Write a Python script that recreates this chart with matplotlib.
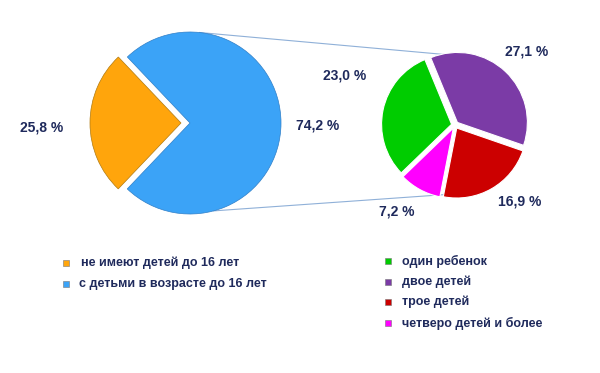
import numpy as np
import matplotlib.pyplot as plt

# Данные
main_labels = ['не имеют детей до 16 лет', 'с детьми в возрасте до 16 лет']
main_values = [25.8, 74.2]
main_colors = ['#FFA50C', '#3BA3F7']

sub_labels = ['один ребенок', 'двое детей', 'трое детей', 'четверо детей и более']
sub_values = [23.0, 27.1, 16.9, 7.2]
sub_colors = ['#00CC00', '#7B3BA6', '#CC0000', '#FF00FF']

txt_color = '#1F2A5C'
H = 373

plt.rcParams['font.family'] = ['Liberation Sans', 'DejaVu Sans']

fig = plt.figure(figsize=(6, 3.73), dpi=100)
ax = fig.add_axes([0, 0, 1, 1])


def py(y):
    # пиксельная координата сверху -> координата осей
    return H - y


# Большой круг (explode задаётся в единицах данных)
c1, r1 = (190, py(123)), 91
ax.pie(main_values, colors=main_colors, startangle=226.4, counterclock=False,
       center=c1, radius=r1, explode=[9, 0],
       wedgeprops=dict(edgecolor='#b07a10', linewidth=0.5), frame=True)
ax.patches[1].set_edgecolor('#2f7fc8')

# Малый круг
c2, r2 = (455, py(125)), 70
ax.pie(sub_values, colors=sub_colors, startangle=224, counterclock=False,
       center=c2, radius=r2, explode=[3.5] * 4,
       wedgeprops=dict(edgecolor='white', linewidth=0.8), frame=True)

ax.set_xlim(0, 600)
ax.set_ylim(0, H)
ax.set_aspect('equal')
ax.axis('off')

# Соединительные линии
for a1, a2 in [(84, 93), (-75, -97)]:
    p1 = (c1[0] + r1 * np.cos(np.radians(a1)), c1[1] + r1 * np.sin(np.radians(a1)))
    p2 = (c2[0] + r2 * np.cos(np.radians(a2)), c2[1] + r2 * np.sin(np.radians(a2)))
    ax.plot([p1[0], p2[0]], [p1[1], p2[1]], color='#8fb0d8', lw=0.8, zorder=0)

# Подписи долей
val_pos = [(42, 127), (318, 126), (345, 75), (527, 52), (520, 202), (397, 212)]
all_vals = main_values + sub_values
for (x, y), v in zip(val_pos, all_vals):
    ax.text(x, py(y), f'{v:.1f} %'.replace('.', ','), ha='center', va='center',
            fontsize=10, fontweight='bold', color=txt_color)

# Легенды
for i, (lab, col) in enumerate(zip(main_labels, main_colors)):
    y = py(263 + 20.5 * i)
    ax.scatter([66], [y], marker='s', s=22, color=col, edgecolors='#777777', linewidths=0.4)
    ax.text(81 - 2 * i, y, lab, ha='left', va='center',
            fontsize=9, fontweight='bold', color=txt_color)

for i, (lab, col) in enumerate(zip(sub_labels, sub_colors)):
    y = py([261, 282, 302, 323][i])
    ax.scatter([388], [y], marker='s', s=22, color=col, edgecolors='#777777', linewidths=0.4)
    ax.text(402, y, lab, ha='left', va='center',
            fontsize=9, fontweight='bold', color=txt_color)

fig.savefig('out.png', dpi=100)
